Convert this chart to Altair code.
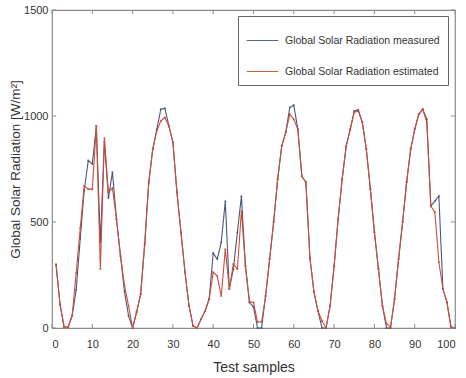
import altair as alt
import pandas as pd

samples = list(range(1, 101))
measured = [300, 110, 5, 5, 58, 180, 420, 650, 790, 773,
            953, 405, 880, 613, 735, 513, 340, 170, 57, 0,
            75, 160, 400, 690, 843, 937, 1032, 1036, 955, 876,
            640, 452, 263, 104, 10, 0, 42, 80, 137, 353,
            325, 405, 598, 184, 278, 452, 622, 292, 120, 100,
            0, 0, 151, 325, 500, 702, 858, 923, 1040, 1051,
            937, 716, 688, 330, 170, 80, 0, 0, 104, 292,
            514, 702, 858, 937, 1023, 1030, 970, 843, 655, 452,
            278, 104, 0, 0, 137, 325, 500, 688, 843, 937,
            1008, 1032, 985, 575, 598, 622, 184, 122, 5, 0]
estimated = [300, 110, 5, 5, 58, 260, 470, 670, 655, 655,
             953, 278, 895, 640, 660, 513, 340, 200, 104, 0,
             75, 160, 390, 680, 843, 930, 976, 993, 952, 876,
             640, 452, 263, 104, 10, 0, 42, 80, 137, 263,
             245, 151, 372, 184, 302, 278, 551, 292, 125, 120,
             28, 28, 151, 325, 500, 702, 858, 923, 1008, 985,
             937, 716, 688, 330, 170, 80, 33, 0, 104, 292,
             514, 702, 858, 937, 1018, 1023, 970, 843, 655, 452,
             278, 104, 20, 5, 137, 325, 500, 688, 843, 937,
             1008, 1032, 970, 575, 546, 310, 184, 122, 5, 0]

x_ticks = [0, 10, 20, 30, 40, 50, 60, 70, 80, 90, 100]
y_ticks = [0, 500, 1000, 1500]
series_names = ["Global Solar Radiation measured", "Global Solar Radiation estimated"]
series_colors = ["#4a5878", "#cf4b3b"]

W, H = 403, 318
FONT = "Liberation Sans"
FRAME = "#8a8a8a"

df = pd.concat([
    pd.DataFrame({"x": samples, "y": measured, "s": series_names[0]}),
    pd.DataFrame({"x": samples, "y": estimated, "s": series_names[1]}),
])
xt = pd.DataFrame({"x": x_ticks})
yt = pd.DataFrame({"y": y_ticks})

xs = alt.Scale(domain=[0, 100], nice=False, zero=False)
ys = alt.Scale(domain=[0, 1500], nice=False)
cs = alt.Scale(domain=series_names, range=series_colors)

x_axis = alt.Axis(
    title="Test samples", values=x_ticks, ticks=False, domain=False, grid=False,
    format="d", labelPadding=10, labelFont=FONT, labelFontSize=11, labelColor="#333",
    titleFont=FONT, titleFontSize=14, titleFontWeight="normal",
    titleColor="#333", titlePadding=11)
y_axis = alt.Axis(
    title="Global Solar Radiation [W/m²]", values=y_ticks, ticks=False,
    domain=False, grid=False, format="d", labelPadding=4, labelFont=FONT,
    labelFontSize=11, labelColor="#333", titleFont=FONT, titleFontSize=13.5,
    titleFontWeight="normal", titleColor="#333", titlePadding=1)

X = alt.X("x:Q", scale=xs, axis=x_axis, title="Test samples")
Y = alt.Y("y:Q", scale=ys, axis=y_axis, title="Global Solar Radiation [W/m²]")

color = alt.Color("s:N", scale=cs, sort=series_names,
                  legend=alt.Legend(title=None, orient="none", legendX=186, legendY=6,
                                    direction="vertical", symbolType="stroke",
                                    symbolSize=1000, symbolStrokeWidth=1.2,
                                    strokeColor="#666", fillColor="white",
                                    padding=8, rowPadding=9, labelOffset=6,
                                    labelFont=FONT, labelFontSize=10.5,
                                    labelColor="#333", labelLimit=300))

def series_layer(name):
    base = alt.Chart(df).transform_filter(alt.datum.s == name)
    line = base.mark_line(strokeWidth=1.1).encode(x=X, y=Y, color=color)
    pts = base.mark_point(filled=True, size=4, opacity=0.9).encode(
        x=X, y=Y, color=color)
    return line + pts

bottom_ticks = alt.Chart(xt).mark_rule(color=FRAME, strokeWidth=1).encode(
    x=X, y=alt.value(H), y2=alt.value(H - 4))
top_ticks = alt.Chart(xt).mark_rule(color=FRAME, strokeWidth=1).encode(
    x=X, y=alt.value(0), y2=alt.value(4))
left_ticks = alt.Chart(yt).mark_rule(color=FRAME, strokeWidth=1).encode(
    y=Y, x=alt.value(0), x2=alt.value(4))
right_ticks = alt.Chart(yt).mark_rule(color=FRAME, strokeWidth=1).encode(
    y=Y, x=alt.value(W - 4), x2=alt.value(W))

chart = alt.layer(
    series_layer(series_names[0]),
    series_layer(series_names[1]),
    bottom_ticks, top_ticks, left_ticks, right_ticks,
).properties(
    width=W, height=H,
    autosize=alt.AutoSizeParams(type="none"),
    padding={"left": 52, "top": 10, "right": 11, "bottom": 50},
    background="white",
).configure_view(stroke=FRAME, strokeWidth=1.2)

chart.save("out.html", embed_options={"renderer": "svg", "actions": False})
